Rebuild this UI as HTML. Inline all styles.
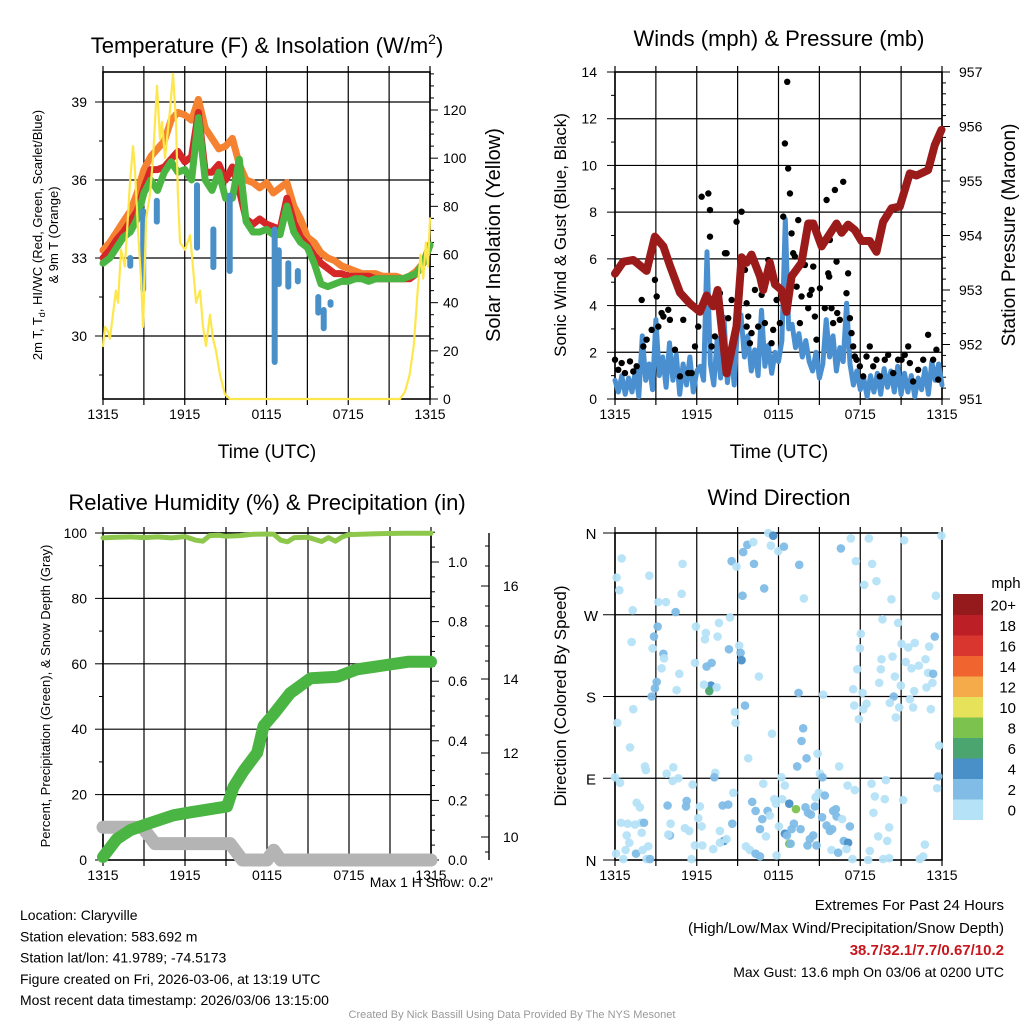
<!DOCTYPE html>
<html><head><meta charset="utf-8"><style>
body{margin:0;background:#fff;}
svg{display:block;font-family:"Liberation Sans",Arial,sans-serif;}
</style></head><body>
<svg id="c" width="1024" height="1024" viewBox="0 0 1024 1024" xmlns="http://www.w3.org/2000/svg"></svg>
<script>
// ---------- DATA ----------
const xTickLabels=["1315","1915","0115","0715","1315"];
const tempTicks=[30,33,36,39];
const solarTicks=[0,20,40,60,80,100,120];
const windTicks=[0,2,4,6,8,10,12,14];
const presTicks=[951,952,953,954,955,956,957];
const pctTicks=[0,20,40,60,80,100];
const precipTicks=["0.0","0.2","0.4","0.6","0.8","1.0"];
const snowTicks=[10,12,14,16];
const dirLabels=["N","E","S","W","N"];
const cbLabels=["0","2","4","6","8","10","12","14","16","18","20+"];
const cbColors=["#b5e2f7","#80bce6","#4a90c8","#4aa56e","#7cc24e","#e6e35a","#f5ab4a","#ef642f","#da3630","#bd1f27","#951a1c"];

const tHalf=[];for(let i=0;i<=48;i++)tHalf.push(i*0.5);
const orangeT=[33.3,33.6,34.0,34.4,34.8,35.5,36.4,36.9,37.2,37.5,38.3,38.6,38.5,38.3,39.1,38.0,37.6,37.2,37.3,37.6,36.6,36.0,35.9,35.7,35.9,35.5,35.7,35.9,35.0,34.5,33.8,33.6,33.2,33.0,32.9,32.7,32.6,32.5,32.4,32.4,32.4,32.3,32.3,32.3,32.2,32.3,32.5,32.8,33.5];
const redT=[33.0,33.3,33.7,34.0,34.4,34.8,35.7,36.4,36.4,36.5,36.8,37.1,36.7,36.9,38.6,36.3,36.3,36.6,36.0,36.5,35.6,34.5,34.3,34.5,34.3,34.2,34.1,35.3,34.4,33.8,33.5,33.1,32.8,32.6,32.4,32.4,32.3,32.3,32.3,32.3,32.2,32.2,32.2,32.2,32.2,32.2,32.4,32.8,33.5];
const greenTd=[32.8,33.0,33.4,33.8,34.0,34.5,35.5,36.0,35.6,36.3,36.7,36.3,36.4,36.0,38.4,36.0,35.6,36.3,35.3,35.3,36.8,34.4,34.0,34.0,34.1,33.9,33.9,35.0,34.0,33.6,33.4,32.8,32.0,31.9,32.0,32.1,32.1,32.2,32.2,32.1,32.2,32.2,32.2,32.2,32.2,32.3,32.4,32.8,33.5];
const wcTime=[2.0,2.95,3.95,6.9,8.1,9.3,12.6,12.9,13.6,14.3,15.8,16.2,16.7];
const wcLow=[32.7,31.8,34.4,33.4,32.65,32.5,29.0,32.0,31.9,32.1,30.9,30.3,31.2];
const wcHigh=[33.0,34.8,35.2,35.8,34.1,35.4,34.1,33.3,32.8,32.5,31.5,31.0,31.3];
const solarTime=[0,0.15,0.37,0.51,0.73,0.95,1.1,1.32,1.61,1.98,2.2,2.35,2.57,2.79,2.94,3.16,3.45,3.67,3.96,4.18,4.33,4.55,4.92,5.14,5.36,5.5,5.65,6.02,6.39,6.6,6.83,7.12,7.34,7.56,7.85,8.07,8.29,8.59,8.95,9.32,21.8,22.16,22.5,22.8,23.1,23.3,23.5,23.7,23.85,24];
const solarVal=[22,30,28,25,35,45,40,62,55,90,105,95,70,50,30,75,85,100,130,108,115,100,120,135,115,85,65,62,68,55,40,45,30,22,35,25,20,10,2,0,0,3,10,22,45,60,50,65,55,75];

const windTime=[];for(let i=0;i<=96;i++)windTime.push(i*0.25);
const windVal=[0.8,0.3,1.0,0.2,0.9,0.3,1.2,0.1,2.7,0.8,1.5,0.4,3.4,
1.0,1.8,0.5,2.4,0.8,1.9,0.2,1.5,0.6,1.8,0.3,1.2,
1.4,0.8,6.3,1.5,0.6,2.6,0.9,3.5,0.7,2.1,0.6,3.2,
3.6,1.8,2.7,1.2,2.1,1.0,3.8,1.4,2.3,1.1,2.0,1.6,
2.5,7.7,3.0,3.2,2.2,2.8,1.8,2.5,1.6,1.2,2.0,0.9,
1.5,3.4,1.8,2.7,1.2,2.2,1.6,4.1,1.5,0.6,1.2,0.4,
0.9,0.1,1.0,0.3,1.1,0.2,1.3,0.5,1.2,0.3,1.4,0.2,
1.1,0.3,1.0,0.1,0.9,0.4,1.3,0.2,1.6,0.8,1.5,0.6];
const gustTime=[0,.24,.49,.73,1.1,1.34,1.59,1.96,2.08,2.32,2.69,2.93,3.06,3.18,3.42,3.55,3.91,4.03,4.4,4.77,5.01,5.38,5.62,5.87,6.11,6.36,6.85,6.97,6.97,7.09,7.33,7.7,8.07,8.19,8.31,8.56,8.92,9.29,9.54,9.66,9.66,9.78,9.9,10.02,10.27,10.51,10.76,11.0,11.25,11.49,11.61,11.86,12.1,12.35,12.47,12.64,12.71,12.84,12.96,13.08,13.2,13.33,13.45,13.57,13.69,13.94,14.18,14.3,14.43,14.55,14.67,14.79,15.04,15.4,15.53,15.65,15.72,15.77,15.89,16.01,16.14,16.26,16.31,16.5,16.75,16.99,17.11,17.24,17.36,17.48,17.6,17.73,17.97,18.22,18.46,18.7,18.95,19.19,19.44,19.8,20.05,20.42,20.78,21.03,21.27,21.52,21.64,21.88,22.25,22.62,22.98,23.35,23.59,23.72,23.96];
const gustVal=[1.68,1.25,1.54,1.11,1.61,1.18,1.4,4.24,2.25,2.54,2.96,5.1,4.39,3.1,3.68,3.53,3.82,3.39,2.11,0.97,3.39,1.11,1.11,2.25,3.1,8.66,8.8,8.09,6.95,2.25,2.68,4.53,6.24,6.24,3.46,4.24,7.59,8.02,5.53,4.1,3.1,3.53,2.39,2.82,4.67,3.1,4.46,3.25,5.95,2.39,2.96,4.24,3.25,7.81,10.94,13.58,9.87,8.8,7.09,6.24,6.1,4.81,7.66,3.25,4.39,5.74,3.89,4.46,4.67,5.67,3.53,2.54,4.74,3.89,8.52,5.38,5.24,6.81,3.89,3.25,8.95,5.88,3.68,3.39,9.3,4.53,5.38,3.46,2.82,2.25,1.82,1.68,1.4,0.97,1.82,2.25,1.4,1.68,0.97,1.68,1.89,1.11,1.68,1.68,1.89,2.25,1.54,0.75,1.25,1.68,2.75,1.68,2.11,0.83];
const presTime=[0,0.61,1.34,2.32,2.93,3.55,4.03,4.77,5.5,6.23,6.72,7.21,7.53,8.19,8.92,9.29,9.66,10.02,10.64,10.88,11.37,11.74,12.22,12.59,12.96,13.69,14.18,14.55,15.16,16.26,16.63,17.11,17.6,18.09,18.7,19.19,19.68,20.29,20.9,21.64,22.13,22.98,23.47,23.96];
const presVal=[953.3,953.52,953.55,953.35,953.98,953.8,953.45,952.95,952.75,952.6,952.9,952.7,953.0,951.47,952.33,953.6,953.5,953.65,953.25,953.0,953.5,953.1,953.0,952.6,953.25,953.5,954.22,954.22,953.8,954.22,954.05,954.2,954.1,953.9,953.9,953.7,954.25,954.5,954.53,955.14,955.1,955.2,955.66,955.94];

const rhTime=[0,1,2,3,4,5,6,6.8,7.3,7.8,8.5,9,10,11,12,12.5,13,13.5,14,15,16,16.5,17,17.5,18,20,22,24];
const rhVal=[98.5,98.7,98.8,98.6,98.8,98.5,98.9,97.8,97.5,99.2,99.3,99.0,99.2,99.6,99.7,99.6,97.8,97.3,98.6,98.7,97.4,98.6,97.5,98.8,99.5,99.8,99.9,99.9];
const precipTime=[0,1.0,1.98,3.2,5.15,6.4,9.08,9.55,10.3,11.28,11.75,12.5,13.7,15.2,17.15,18.6,20.1,22.3,24];
const precipVal=[0.01,0.07,0.10,0.12,0.15,0.16,0.18,0.245,0.30,0.36,0.45,0.49,0.56,0.61,0.615,0.64,0.65,0.665,0.665];
const snowTime=[0,2.9,3.8,9.3,10.2,12.0,12.5,13.0,24];
const snowPct=[10,10,5,5,0,0,3,0,0];

const dirTime=[.12,.49,.32,2.52,3.18,3.74,4.96,4.89,4.45,1.3,3.13,2.86,1.22,2.76,3.55,3.6,3.42,3.06,2.93,2.69,4.72,4.52,5.87,5.94,6.67,6.6,7.53,7.63,8.44,8.36,6.72,7.09,7.04,6.92,6.53,7.46,9.12,9.22,9.29,8.56,8.92,9.41,9.71,10.15,10.2,10.95,9.36,11.25,11.61,11.44,11.98,12.4,13.52,13.86,10.56,9.54,8.8,8.85,11.52,13.47,15.28,13.81,13.69,14.06,13.37,14.87,9.78,16.45,16.58,17.31,18.63,21.22,23.96,17.68,18.87,19.19,18.29,20.29,19.63,20.78,23.55,23.47,18.04,17.97,17.78,17.48,18.17,18.46,17.56,17.9,18.22,19.39,19.51,19.56,20.37,20.54,20.98,21.03,21.52,21.34,21.76,22.0,22.3,22.79,23.06,22.98,23.35,23.3,22.86,21.96,21.64,21.88,23.18,20.46,20.17,20.61,20.86,23.79,23.72,23.64,.17,1.34,1.1,2.2,2.27,0,.37,3.79,4.28,4.23,4.65,5.7,7.36,7.29,8.68,10.88,12.22,12.47,15.04,15.23,17.07,17.6,18.83,19.88,19.07,19.8,21.15,
1.59,1.83,.44,.93,1.47,1.91,2.13,1.96,.86,1.05,.78,.07,.61,1.54,2.03,2.44,2.32,2.57,3.86,4.03,3.91,4.08,5.13,5.26,5.45,5.21,6.11,6.23,6.36,5.87,5.62,6.41,7.21,7.7,7.9,8.31,8.0,8.19,7.7,8.61,9.61,9.9,10.07,10.32,10.64,10.81,11.08,11.2,11.37,11.69,11.81,11.86,10.32,10.64,12.03,12.27,12.47,12.62,12.79,12.96,13.13,13.28,12.79,12.89,13.62,13.98,14.16,14.38,14.67,14.72,14.96,15.4,14.55,14.3,14.13,14.79,15.2,15.53,15.94,15.77,16.01,16.21,16.26,16.67,17.24,15.89,16.38,16.79,17.11,16.99,17.43,18.58,18.7,18.97,19.32,19.98,20.12,19.68,20.12,22.37,22.62,22.74];
const dirDeg=[311,332,297,313,284,284,326,293,273,275,257,246,240,233,227,222,211,196,189,180,205,187,217,257,250,243,246,261,267,232,213,217,192,186,193,190,236,228,220,329,323,339,347,350,326,299,291,360,357,346,340,345,325,288,202,170,163,151,139,184,182,145,131,112,103,117,112,103,343,354,354,352,357,329,326,307,303,287,265,261,291,246,249,233,210,188,184,172,170,155,166,195,210,221,224,202,192,238,234,218,211,239,214,221,235,206,205,195,190,186,177,168,166,180,173,157,168,126,92,79,151,166,124,103,99,91,85,95,102,87,90,83,96,91,74,84,91,82,95,91,82,77,84,88,70,67,66,
63,58,41,40,39,41,41,30,27,19,11,7,1,7,11,15,1,1,60,27,28,40,35,65,32,59,46,59,37,16,1,16,12,32,60,61,21,23,19,40,15,11,64,54,34,45,26,54,49,67,62,5,7,4,37,67,29,27,62,34,40,56,18,18,34,58,52,50,59,69,74,71,27,23,16,16,47,38,34,32,54,56,48,45,37,11,8,21,19,12,1,0,10,52,26,21,36,1,2,1,4,17];
const dirSpd=[1,1,1,1,1,1,1,1,3,1,3,3,1,1,3,1,1,3,3,3,1,1,1,1,1,1,1,1,1,3,3,3,5,7,1,1,1,3,5,3,1,3,3,1,3,3,3,1,5,1,1,3,3,1,1,3,1,1,1,3,1,3,3,3,3,1,1,1,3,1,1,1,1,1,1,1,1,1,1,1,1,3,1,1,1,1,1,1,1,1,1,1,1,1,1,1,1,1,1,1,1,1,1,1,1,1,3,1,1,1,1,1,1,3,1,1,1,1,3,1,1,1,1,1,1,1,1,1,1,1,1,1,1,3,1,1,1,1,1,3,1,1,1,1,1,1,
1,1,1,1,1,1,1,3,1,1,1,1,1,1,3,1,1,1,3,3,3,1,1,1,3,1,3,1,1,1,1,1,1,1,1,3,3,5,1,1,3,1,1,3,3,3,3,1,3,1,1,1,1,3,3,1,1,5,3,5,3,3,9,9,3,3,3,3,3,3,1,1,3,3,3,3,3,3,3,3,3,3,3,3,1,3,1,3,3,5,1,1,1,1,1,1,1,1,1,1,1,1];

// ---------- DRAW ----------
const S=document.getElementById('c');const NS="http://www.w3.org/2000/svg";
function el(tag,attrs,parent,txt){const e=document.createElementNS(NS,tag);for(const k in attrs)e.setAttribute(k,attrs[k]);if(txt!==undefined)e.textContent=txt;(parent||S).appendChild(e);return e;}
function group(name){const g=document.createElementNS(NS,'g');


S.appendChild(g);return g;}
function lin(d0,d1,p0,p1){return v=>p0+(v-d0)*(p1-p0)/(d1-d0);}
function text(g,x,y,s,size,anchor,extra){const t=el('text',Object.assign({x:x,y:y,'font-size':size,'text-anchor':anchor||'middle',fill:'#000'},extra||{}),g,s);return t;}
function polyline(g,xs,ys,xf,yf,color,w,name){const n=Math.min(xs.length,ys.length);const pts=[];for(let i=0;i<n;i++)pts.push(xf(xs[i]).toFixed(1)+','+yf(ys[i]).toFixed(1));
const p=el('polyline',{points:pts.join(' '),fill:'none',stroke:color,'stroke-width':w,'stroke-linejoin':'round','stroke-linecap':'round'},g);


return p;}

function frame(g,x0,x1,y0,y1,hLines){
  for(let i=0;i<=8;i++){const x=x0+i*(x1-x0)/8;el('line',{x1:x,x2:x,y1:y0-6,y2:y1+6,stroke:'#000','stroke-width':1.2},g);}
  hLines.forEach(y=>el('line',{x1:x0,x2:x1,y1:y,y2:y,stroke:'#000','stroke-width':1.2},g));
  el('rect',{x:x0,y:y0,width:x1-x0,height:y1-y0,fill:'none',stroke:'#000','stroke-width':1.6},g);
  xTickLabels.forEach((s,i)=>{const t=text(g,x0+i*(x1-x0)/4,y1+20,s,14);
  
  });
}

// Panel 1
(function(){
 const g=group('temperature-panel');
 const X0=103,X1=430,Y0=72,Y1=399;
 const x=lin(0,24,X0,X1), y=lin(33,36,258,180), ys=lin(0,120,399,110);
 frame(g,X0,X1,Y0,Y1,tempTicks.map(y));
 tempTicks.forEach(v=>{el('line',{x1:X0-8,x2:X0,y1:y(v),y2:y(v),stroke:'#000'},g);text(g,X0-16,y(v)+5,String(v),14,'end');});
 [28.5,31.5,34.5,37.5].forEach(v=>el('line',{x1:X0-4,x2:X0,y1:y(v),y2:y(v),stroke:'#000'},g));
 for(let v=0;v<=135;v+=5){const L=v%20===0?8:4;el('line',{x1:X1,x2:X1+L,y1:ys(v),y2:ys(v),stroke:'#000'},g);}
 solarTicks.forEach(v=>text(g,X1+13,ys(v)+5,String(v),14,'start'));
 polyline(g,tHalf,orangeT,x,y,'#f58231',7,'9m-temp-line');
 polyline(g,tHalf,redT,x,y,'#d62728',7,'2m-temp-line');
 polyline(g,tHalf,greenTd,x,y,'#4bb543',7,'dewpoint-line');
 wcTime.forEach((t,i)=>{const l=el('line',{x1:x(t),x2:x(t),y1:y(wcLow[i]),y2:y(wcHigh[i]),stroke:'#4a90c8','stroke-width':6,'stroke-linecap':'round'},g);
 
 });
 polyline(g,solarTime,solarVal,x,ys,'#fde74c',2.2,'solar-line');
 const tt=text(g,267,53,'Temperature (F) & Insolation (W/m',22);
 el('tspan',{'font-size':14,dy:-9},tt,'2');el('tspan',{dy:9},tt,')');
 text(g,267,458,'Time (UTC)',19);
 const yl=text(g,0,0,'',13,'middle',{transform:'translate(42,235) rotate(-90)'});
 el('tspan',{},yl,'2m T, T');el('tspan',{'font-size':9,dy:3},yl,'d');el('tspan',{dy:-3},yl,', HI/WC (Red, Green, Scarlet/Blue)');
 text(g,0,0,'& 9m T (Orange)',13,'middle',{transform:'translate(58,235) rotate(-90)'});
 text(g,0,0,'Solar Insolation (Yellow)',20,'middle',{transform:'translate(500,235) rotate(-90)'});
})();

// Panel 2
(function(){
 const g=group('winds-panel');
 const X0=615,X1=942,Y0=72,Y1=399;
 const x=lin(0,24,X0,X1), y=lin(0,14,399,72), yp=lin(951,957,399,72);
 frame(g,X0,X1,Y0,Y1,[2,4,6,8,10,12].map(y));
 windTicks.forEach(v=>{el('line',{x1:X0-8,x2:X0,y1:y(v),y2:y(v),stroke:'#000'},g);text(g,X0-18,y(v)+5,String(v),14,'end');});
 for(let v=1;v<14;v+=2)el('line',{x1:X0-4,x2:X0,y1:y(v),y2:y(v),stroke:'#000'},g);
 for(let k=0;k<=30;k++){const v=951+k*0.2;const L=k%5===0?8:4;el('line',{x1:X1,x2:X1+L,y1:yp(v),y2:yp(v),stroke:'#000'},g);}
 presTicks.forEach(v=>text(g,X1+17,yp(v)+5,String(v),14,'start'));
 polyline(g,windTime,windVal,x,y,'#4a90d0',5,'wind-speed-line');
 const ng=Math.min(gustTime.length,gustVal.length);
 for(let i=0;i<ng;i++){const c=el('circle',{cx:x(gustTime[i]),cy:y(gustVal[i]),r:3.2,fill:'#000'},g);
 
 }
 polyline(g,presTime,presVal,x,yp,'#9b1b1b',8,'pressure-line');
 text(g,779,46,'Winds (mph) & Pressure (mb)',22);
 text(g,779,458,'Time (UTC)',19);
 text(g,0,0,'Sonic Wind & Gust (Blue, Black)',17,'middle',{transform:'translate(566,235) rotate(-90)'});
 text(g,0,0,'Station Pressure (Maroon)',19,'middle',{transform:'translate(1015,235) rotate(-90)'});
})();

// Panel 3
(function(){
 const g=group('humidity-panel');
 const X0=103,X1=431,Y0=533,Y1=860;
 const x=lin(0,24,X0,X1), y=lin(0,100,860,533), yi=lin(0,1,860,562);
 frame(g,X0,X1,Y0,Y1,[20,40,60,80].map(y));
 pctTicks.forEach(v=>{el('line',{x1:X0-8,x2:X0,y1:y(v),y2:y(v),stroke:'#000'},g);text(g,X0-16,y(v)+5,String(v),14,'end');});
 [10,30,50,70,90].forEach(v=>el('line',{x1:X0-4,x2:X0,y1:y(v),y2:y(v),stroke:'#000'},g));
 for(let k=0;k<=22;k++){const v=k*0.05;const L=k%4===0?8:4;el('line',{x1:X1,x2:X1+L,y1:yi(v),y2:yi(v),stroke:'#000'},g);}
 precipTicks.forEach(s=>text(g,X1+17,yi(+s)+5,s,14,'start'));
 const sx=489, ysn=v=>({10:837,12:753,14:679,16:586})[v];
 el('line',{x1:sx,x2:sx,y1:533,y2:860,stroke:'#000','stroke-width':1.4},g);
 [546,566,606,626,646,661,699,716,735,774,795,816,852].forEach(yy=>el('line',{x1:sx,x2:sx-4,y1:yy,y2:yy,stroke:'#000'},g));
 snowTicks.forEach(v=>{el('line',{x1:sx,x2:sx-8,y1:ysn(v),y2:ysn(v),stroke:'#000'},g);text(g,sx+14,ysn(v)+5,String(v),14,'start');});
 polyline(g,snowTime,snowPct,x,y,'#b4b4b4',13,'snow-depth-line');
 polyline(g,rhTime,rhVal,x,y,'#8dc84c',5,'rh-line');
 polyline(g,precipTime,precipVal,x,yi,'#4bb543',12,'precip-line');
 text(g,267,510,'Relative Humidity (%) & Precipitation (in)',22);
 text(g,0,0,'Percent, Precipitation (Green), & Snow Depth (Gray)',13,'middle',{transform:'translate(50,696) rotate(-90)'});
 text(g,493,887,'Max 1 H Snow: 0.2"',14,'end');
})();

// Panel 4
(function(){
 const g=group('wind-direction-panel');
 const X0=615,X1=942,Y0=533,Y1=860;
 const x=lin(0,24,X0,X1), y=lin(0,360,860,533);
 frame(g,X0,X1,Y0,Y1,[90,180,270].map(y));
 dirLabels.forEach((s,i)=>{el('line',{x1:X0-12,x2:X0,y1:y(i*90),y2:y(i*90),stroke:'#000'},g);text(g,591,y(i*90)+6,s,15,'middle');});
 const nd=Math.min(dirTime.length,dirDeg.length);
 for(let i=0;i<nd;i++){const sp=(dirSpd[i]===undefined)?1:dirSpd[i];
 const c=el('circle',{cx:x(dirTime[i]),cy:y(dirDeg[i]),r:4.3,fill:cbColors[Math.min(10,Math.floor(sp/2))],'fill-opacity':0.95},g);
 
 }
 const cb=group('speed-colorbar');
 const h=20.5, top=594;
 cbColors.forEach((col,i)=>{el('rect',{x:953,y:top+(10-i)*h,width:30,height:h+0.5,fill:col},cb);
 text(cb,1016,top+(10-i)*h+h/2+6,cbLabels[i],15,'end');});
 text(cb,1006,588,'mph',15,'middle');
 text(g,779,505,'Wind Direction',22);
 text(g,0,0,'Direction (Colored By Speed)',17,'middle',{transform:'translate(566,696) rotate(-90)'});
})();

(function(){
 const g=group('station-info');
 ['Location: Claryville','Station elevation: 583.692 m','Station lat/lon: 41.9789; -74.5173','Figure created on Fri, 2026-03-06, at 13:19 UTC','Most recent data timestamp: 2026/03/06 13:15:00'].forEach((s,i)=>text(g,20,920+i*21.3,s,14,'start'));
 const r=group('extremes-info');
 text(r,1004,910,'Extremes For Past 24 Hours',15,'end');
 text(r,1004,933,'(High/Low/Max Wind/Precipitation/Snow Depth)',15,'end');
 text(r,1004,955,'38.7/32.1/7.7/0.67/10.2',15,'end',{fill:'#c8161d','font-weight':'bold'});
 text(r,1004,977,'Max Gust: 13.6 mph On 03/06 at 0200 UTC',14,'end');
 const f=group('credits');
 text(f,512,1018,'Created By Nick Bassill Using Data Provided By The NYS Mesonet',11,'middle',{fill:'#999'});
})();
</script>
</body></html>
